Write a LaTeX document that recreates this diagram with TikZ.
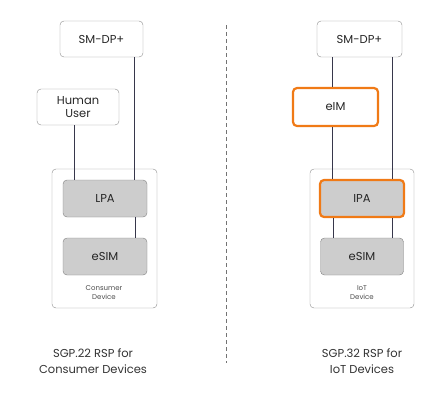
\documentclass[tikz,border=0pt]{standalone}
\usepackage{fontspec}
\setmainfont{Poppins}
\usepackage{tikz}
\usetikzlibrary{positioning}
\definecolor{myorange}{RGB}{240,122,22}
\definecolor{mygrey}{RGB}{205,205,205}
\definecolor{myline}{RGB}{55,55,75}
\tikzstyle{entity}=[draw=black!45,rounded corners=4pt,minimum width=83pt,minimum height=36pt,inner sep=0pt,font=\fontsize{11.5}{13.5}\selectfont,align=center,text=black!85]

\begin{document}
\begin{tikzpicture}[
  x=1pt,y=-1pt,
  link/.style={myline,line width=1pt},
  chip/.style={entity,fill=mygrey,draw=black!50},
  hilite/.style={draw=myorange,line width=2.2pt},
  device/.style={draw=black!45,rounded corners=4pt,minimum width=105pt,minimum height=139pt,inner sep=0pt},
  devlabel/.style={font=\fontsize{7}{9.5}\selectfont,align=center,text=black!70},
  title/.style={font=\fontsize{11.5}{16}\selectfont,align=center,text=black!80}
]
\useasboundingbox (0,0) rectangle (443,400);

% consumer side
\node [device] (cdev) at (104.5,238.5) {};
\node [entity] (smdpA) at (101.5,39) {SM-DP+};
\node [entity,minimum width=82pt] (user) at (78,107) {Human\\User};
\node [chip,minimum width=84pt,minimum height=37pt] (lpa) at (105,198.5) {LPA};
\node [chip,minimum width=84pt,minimum height=37pt] (esimA) at (105,256.5) {eSIM};
\node [devlabel] (cdevlab) at (104,292.5) {Consumer\\Device};

\draw [link] ([xshift=-4pt]user.south) -- ([xshift=-31pt]lpa.north);
\draw [link] ([xshift=32.5pt]smdpA.south) -- ([xshift=29pt]lpa.north);
\draw [link] ([xshift=30pt]lpa.south) -- ([xshift=30pt]esimA.north);

% divider
\coordinate (top) at (226,25);
\coordinate (bot) at (226,363);
\draw [black!55,line width=1pt,dash pattern=on 4pt off 3pt] (top) -- (bot);

% iot side
\node [device,minimum width=104pt] (idev) at (362,238.5) {};
\node [entity,minimum width=85pt] (smdpB) at (359.5,39) {SM-DP+};
\node [entity,hilite,minimum width=85pt,minimum height=38pt] (eim) at (335.5,107) {eIM};
\node [chip,hilite,minimum width=84pt,minimum height=37pt] (ipa) at (362,198.5) {IPA};
\node [chip,minimum width=83pt,minimum height=37pt] (esimB) at (362,256.5) {eSIM};
\node [devlabel] (idevlab) at (362,292.5) {IoT\\Device};

\draw [link] ([xshift=-27.5pt]smdpB.south) -- ([xshift=-3.5pt]eim.north);
\draw [link] ([xshift=-3.5pt]eim.south) -- ([xshift=-30pt]ipa.north);
\draw [link] ([xshift=32.5pt]smdpB.south) -- ([xshift=30pt]ipa.north);
\draw [link] ([xshift=-29pt]ipa.south) -- ([xshift=-29pt]esimB.north);
\draw [link] ([xshift=30pt]ipa.south) -- ([xshift=30pt]esimB.north);

% captions
\node [title] (capA) at (93,361) {SGP.22 RSP for\\Consumer Devices};
\node [title] (capB) at (362,361) {SGP.32 RSP for\\IoT Devices};
\end{tikzpicture}
\end{document}
